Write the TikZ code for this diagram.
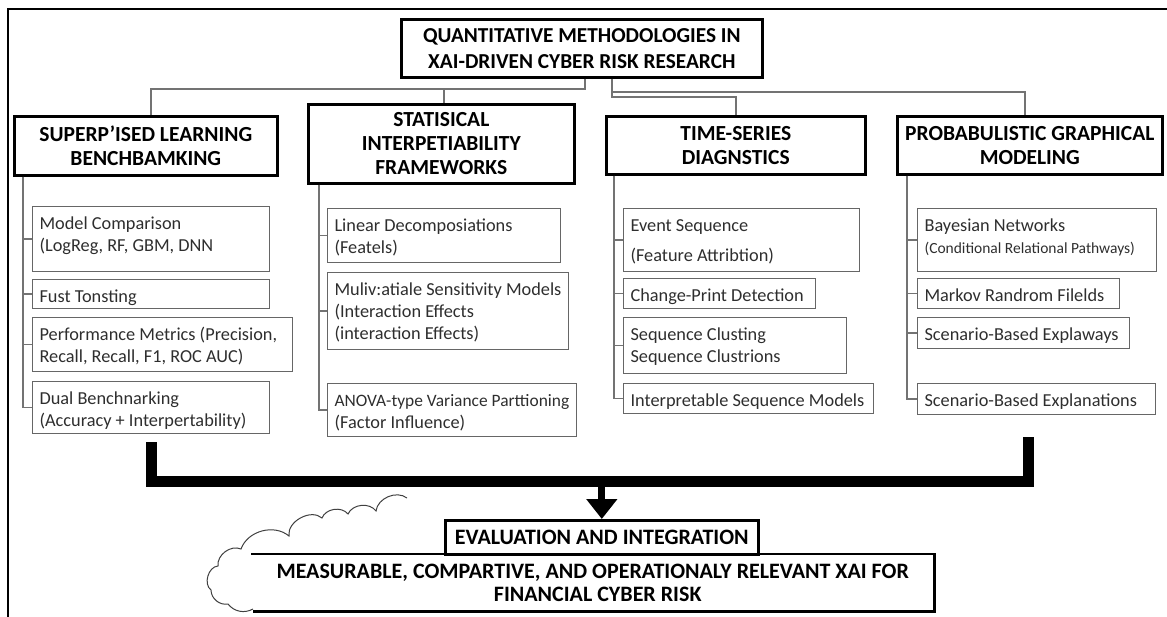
\documentclass[tikz,border=0pt]{standalone}
\usepackage{fontspec}
\setmainfont{Carlito}
\usetikzlibrary{arrows.meta}
% item box: name, x, y, width, height, text (text sits at the top of the box)
\newcommand\itembox[6]{%
  \node[itemnode] (#1) at (#2,#3)
    {\parbox[c][\dimexpr#5pt-15pt\relax][t]{\dimexpr#4pt-14pt\relax}%
      {\begin{tabular}[t]{@{}l@{}}#6\end{tabular}}};}
\begin{document}
\begin{tikzpicture}[x=1pt,y=-1pt,
  titlebox/.style={draw=black, line width=2.6pt, anchor=north west, align=center,
    inner sep=0pt, font=\fontsize{21.3}{26}\selectfont\bfseries},
  catbox/.style={draw=black, line width=2.6pt, anchor=north west, align=center,
    inner sep=0pt, font=\fontsize{21.5}{24}\selectfont\bfseries},
  itemnode/.style={draw=black!60, line width=1.1pt, anchor=north west,
    inner xsep=7pt, inner ysep=7.5pt, font=\fontsize{18.3}{22}\selectfont, text=black!82},
  tree/.style={draw=black!55, line width=1.2pt},
  bar/.style={draw=black, line width=11pt, line join=miter},
  downarrow/.style={draw=black, line width=7pt, -{Triangle[width=30pt,length=20pt]}},
  heavy/.style={draw=black, line width=2.6pt},
  cloudline/.style={draw=black!75, line width=1pt},
]
\useasboundingbox (0,0) rectangle (1167,617);

% outer frame
\draw[black, line width=1.4pt] (8,617) -- (8,9) -- (1167,9);

% title and the four methodology headings
\node[titlebox, minimum width=361pt, minimum height=58pt] (title) at (400,18)
  {QUANTITATIVE METHODOLOGIES IN\\XAI-DRIVEN CYBER RISK RESEARCH};
\node[catbox, minimum width=263pt, minimum height=59pt] (cat1) at (13,115)
  {SUPERP'ISED LEARNING\\BENCHBAMKING};
\node[catbox, minimum width=266pt, minimum height=79pt] (cat2) at (307,103)
  {STATISICAL\\INTERPETIABILITY\\FRAMEWORKS};
\node[catbox, minimum width=259pt, minimum height=58pt] (cat3) at (605,115)
  {TIME-SERIES\\DIAGNSTICS};
\node[catbox, minimum width=265pt, minimum height=58pt] (cat4) at (896,115)
  {PROBABULISTIC GRAPHICAL\\MODELING};

% branching from the title to the headings
\coordinate (jA) at (585,89);
\coordinate (jB) at (151,89);
\coordinate (jC) at (444,89);
\coordinate (jD) at (612,97);
\coordinate (jE) at (736,97);
\coordinate (jF) at (612,92);
\coordinate (jG) at (1025,92);
\draw[tree] (title.south -| jA) -- (jA) -- (jB) -- (cat1.north -| jB);
\draw[tree] (jC) -- (cat2.north -| jC);
\draw[tree] (title.south -| jD) -- (jD) -- (jE) -- (cat3.north -| jE);
\draw[tree] (jF) -- (jG) -- (cat4.north -| jG);

% supervised learning items
\itembox{a1}{32}{206}{237}{65}{Model Comparison\\(LogReg, RF, GBM, DNN}
\itembox{a2}{32}{279}{237}{29}{Fust Tonsting}
\itembox{a3}{32}{317}{260}{54}{Performance Metrics (Precision,\\Recall, Recall, F1, ROC AUC)}
\itembox{a4}{32}{381}{237}{52}{Dual Benchnarking\\(Accuracy + Interpertability)}

% statistical interpretability items
\itembox{b1}{327}{208}{233}{54}{Linear Decomposiations\\(Featels)}
\itembox{b2}{327}{272}{241}{77}{Muliv:atiale Sensitivity Models\\(Interaction Effects\\(interaction Effects)}
\itembox{b3}{327}{383}{249}{53}{{\fontsize{17.4}{22}\selectfont ANOVA-type Variance Parttioning}\\(Factor Influence)}

% time-series items
\itembox{c1}{623}{208}{236}{63}{Event Sequence\\[8pt](Feature Attribtion)}
\itembox{c2}{623}{278}{192}{30}{Change-Print Detection}
\itembox{c3}{623}{317}{223}{56}{Sequence Clusting\\Sequence Clustrions}
\itembox{c4}{623}{383}{250}{30}{Interpretable Sequence Models}

% probabilistic graphical items
\itembox{d1}{917}{208}{239}{63}{Bayesian Networks\\{\fontsize{15.5}{18}\selectfont(Conditional Relational Pathways)}}
\itembox{d2}{917}{278}{202}{30}{Markov Randrom Filelds}
\itembox{d3}{917}{317}{212}{31}{Scenario-Based Explaways}
\itembox{d4}{917}{383}{238}{31}{Scenario-Based Explanations}

% left rails from each heading to its items
\coordinate (v1) at (23,0);
\coordinate (v2) at (319,0);
\coordinate (v3) at (614,0);
\coordinate (v4) at (907,0);
\foreach \c/\v/\p in {cat1/v1/a, cat2/v2/b, cat3/v3/c, cat4/v4/d}{
  \draw[tree] (\c.south -| \v) -- (\v |- \p1.west) -- (\p1.west);
}
\draw[tree] (cat1.south -| v1) |- (a4.west);
\draw[tree] (v1 |- a2.west) -- (a2.west);
\draw[tree] (v1 |- a3.west) -- (a3.west);
\draw[tree] (cat2.south -| v2) |- (b3.west);
\draw[tree] (v2 |- b2.west) -- (b2.west);
\draw[tree] (cat3.south -| v3) |- (c4.west);
\draw[tree] (v3 |- c2.west) -- (c2.west);
\draw[tree] (v3 |- c3.west) -- (c3.west);
\draw[tree] (cat4.south -| v4) |- (d4.west);
\draw[tree] (v4 |- d2.west) -- (d2.west);
\draw[tree] (v4 |- d3.west) -- (d3.west);

% evaluation stage
\node[draw=black, line width=2.6pt, anchor=north west, inner sep=0pt,
  minimum width=313pt, minimum height=34pt, font=\fontsize{22}{24}\selectfont\bfseries]
  (eval) at (444,519) {EVALUATION AND INTEGRATION};
\node[anchor=north west, inner sep=0pt, minimum width=683pt, minimum height=57pt,
  align=center, font=\fontsize{22}{23}\selectfont\bfseries]
  (goal) at (251,554) {MEASURABLE, COMPARTIVE, AND OPERATIONALY RELEVANT XAI FOR\\\hspace*{10pt}FINANCIAL CYBER RISK};
\draw[heavy] (goal.north west) -- (goal.north east) -- (goal.south east) -- ([xshift=2pt]goal.south west);

% cloud outline at the left of the result box
\draw[cloudline] (407,498) to[bend right=60] (376,511) to[bend right=60] (348,514)
  to[bend right=60] (322,518) to[bend right=70] (289,536) to[bend right=55] (241,549)
  to[bend right=60] (218,566) to[bend right=70] (211,590) to[bend right=50] (228,604)
  to[bend right=40] (253,609);

% collecting bar and arrow
\coordinate (barL) at (151,442);
\coordinate (barLc) at (151,481);
\coordinate (barRc) at (1028,481);
\coordinate (barR) at (1028,437);
\draw[bar] (barL) -- (barLc) -- (barRc) -- (barR);
\draw[downarrow] (eval.north |- barRc) -- (eval.north);
\end{tikzpicture}
\end{document}
